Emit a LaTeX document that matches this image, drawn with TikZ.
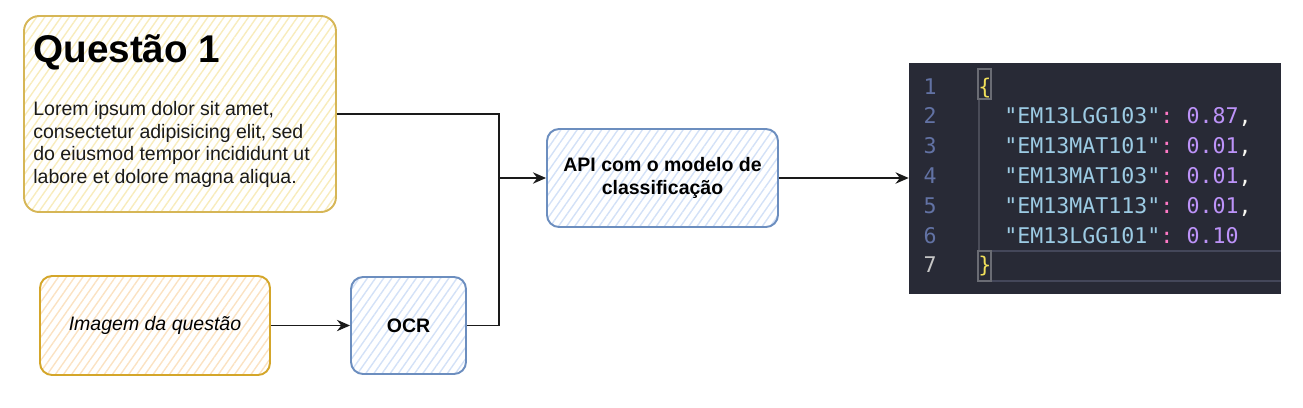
\documentclass[tikz,border=0pt]{standalone}
\usepackage{fontspec}
\setmainfont{Liberation Sans}
\setmonofont{DejaVu Sans Mono}
\usepackage{tikz}
\usetikzlibrary{arrows.meta,patterns.meta}
\definecolor{QStroke}{HTML}{D6B656}
\definecolor{QFill}{HTML}{F8ECBC}
\definecolor{IStroke}{HTML}{D4A62A}
\definecolor{IFill}{HTML}{FBE2C2}
\definecolor{BStroke}{HTML}{6C8EBF}
\definecolor{BFill}{HTML}{D3E1F7}
\definecolor{Wire}{HTML}{1A1A1A}
\definecolor{Body}{HTML}{1A1A1A}
\definecolor{Panel}{HTML}{282A36}
\definecolor{LineNo}{HTML}{6272A4}
\definecolor{LineCur}{HTML}{C6C6C6}
\definecolor{Guide}{HTML}{4A4C58}
\definecolor{BraceBox}{HTML}{6A6C74}
\definecolor{Highlight}{HTML}{44475A}
\definecolor{JBrace}{HTML}{F1E05A}
\definecolor{JKey}{HTML}{9CCBE4}
\definecolor{JColon}{HTML}{FF79C6}
\definecolor{JNum}{HTML}{BD93F9}
\definecolor{JPunct}{HTML}{F8F8F2}

\begin{document}
\begin{tikzpicture}[x=0.02cm,y=-0.02cm,
    sketch/.style={draw,rounded corners=0.24cm,line width=1.1pt,inner sep=0pt},
    yellowbox/.style={sketch,draw=QStroke,pattern={Lines[angle=55,distance=3.8pt,line width=0.8pt]},pattern color=QFill},
    orangebox/.style={sketch,draw=IStroke,pattern={Lines[angle=55,distance=3.8pt,line width=0.8pt]},pattern color=IFill},
    bluebox/.style={sketch,draw=BStroke,pattern={Lines[angle=55,distance=3.8pt,line width=0.8pt]},pattern color=BFill},
    label/.style={font=\fontsize{11.1}{12.6}\selectfont,align=center},
    link/.style={draw=Wire,line width=0.75pt},
    arrow/.style={link,-{Stealth[length=7.5pt,width=6.5pt,inset=2.5pt]}},
    code/.style={font=\ttfamily\fontsize{12.3}{14}\selectfont,inner sep=0pt,anchor=base west}]
  \useasboundingbox (0,0) rectangle (1303,407);

  % question card
  \node[yellowbox,rounded corners=0.3cm,minimum width=6.24cm,minimum height=3.92cm] (question) at (180,114) {};
  \node[anchor=base west,inner sep=0pt,font=\fontsize{22}{26}\selectfont\bfseries] (qtitle) at (33,62) {Questão 1};
  \node[anchor=north west,inner sep=0pt,align=left,text=Body,font=\fontsize{11.1}{12.9}\selectfont] (qtext) at (33,101)
    {Lorem ipsum dolor sit amet,\\consectetur adipisicing elit, sed\\do eiusmod tempor incididunt ut\\labore et dolore magna aliqua.};

  % pipeline
  \node[orangebox,label,font=\fontsize{11.1}{12.6}\selectfont\itshape,minimum width=4.6cm,minimum height=1.98cm] (image) at (155,325.5) {Imagem da questão};
  \node[bluebox,label,font=\fontsize{11.1}{12.6}\selectfont\bfseries,minimum width=2.3cm,minimum height=1.94cm] (ocr) at (408.5,325.5) {OCR};
  \node[bluebox,label,font=\fontsize{11.1}{12.6}\selectfont\bfseries,minimum width=4.62cm,minimum height=1.96cm] (api) at (662.5,178) {API com o modelo de\\classificação};

  % json output
  \node[fill=Panel,inner sep=0pt,minimum width=7.44cm,minimum height=4.62cm] (panel) at (1095,178.5) {};
  \draw[Highlight,line width=1pt] (978,251) -- (1281,251) (978,281) -- (1281,281);
  \draw[Guide,line width=0.6pt] (979,99) -- (979,251);
  \draw[BraceBox,line width=0.6pt] (978,69) rectangle (991,99);
  \draw[BraceBox,line width=0.6pt] (978,251) rectangle (991,281);
  \foreach \n in {1,...,6}
    \node[code,anchor=base,text=LineNo] (ln\n) at (930,{94+29.8*(\n-1)}) {\n};
  \node[code,anchor=base,text=LineCur] (ln7) at (930,{94+29.8*6}) {7};
  \node[code,text=JBrace] (open) at (978,94) {\{};
  \node[code,text=JBrace] (close) at (978,{94+29.8*6}) {\}};
  \foreach \n/\key/\val/\comma in {2/EM13LGG103/0.87/{,},3/EM13MAT101/0.01/{,},4/EM13MAT103/0.01/{,},5/EM13MAT113/0.01/{,},6/EM13LGG101/0.10/{}}
    \node[code] (entry\n) at (1004,{94+29.8*(\n-1)})
      {\textcolor{JKey}{"\key"}\textcolor{JColon}{:} \textcolor{JNum}{\val}\textcolor{JPunct}{\comma}};

  % connectors
  \coordinate (join) at (499,178);
  \draw[link] (question.east) -| (join);
  \draw[link] (ocr.east) -| (join);
  \draw[arrow] (join) -- (api.west);
  \draw[arrow] (image) -- (ocr);
  \draw[arrow] (api.east) -- (api.east -| panel.west);
\end{tikzpicture}
\end{document}
